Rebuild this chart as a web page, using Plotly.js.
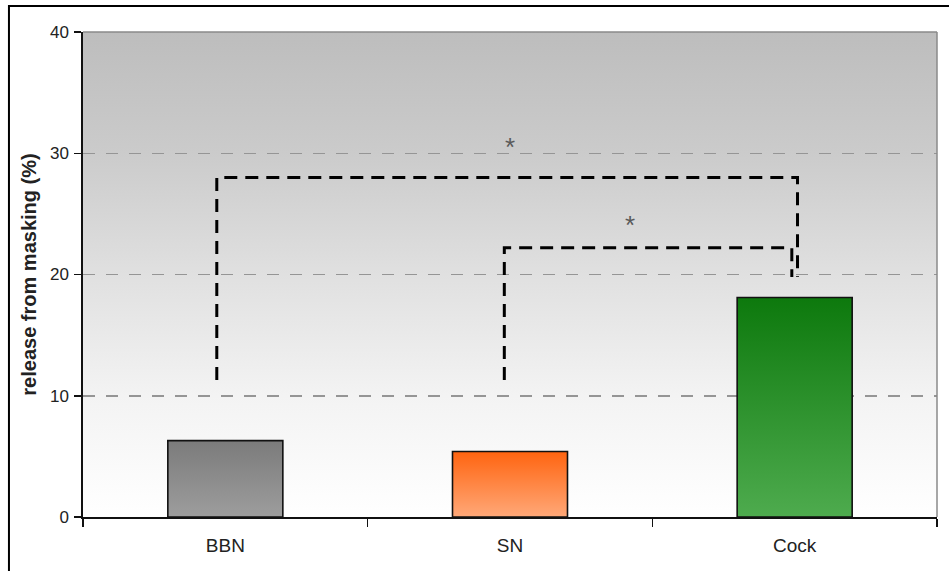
<!DOCTYPE html>
<html>
<head>
<meta charset="utf-8">
<script src="https://cdn.plot.ly/plotly-3.0.1.min.js"></script>
<style>html,body{margin:0;padding:0;background:#fff;}#chart{width:949px;height:571px;}</style>
</head>
<body>
<div id="chart"></div>
<script>
// ---- data ----
const categories = ['BBN', 'SN', 'Cock'];
const values = [6.3, 5.4, 18.1];
const barTopColors = ['#7b7b7b', '#ff6410', '#0d790d'];
const barBottomColors = ['#9d9d9d', '#ffa878', '#4eab4e'];
const yTickVals = [0, 10, 20, 30, 40];
const yTickText = ['0', '10', '20', '30', '40'];
const bracketOuterX = [-0.03, -0.03, 2.01, 2.01];
const bracketOuterY = [11.3, 28.0, 28.0, 19.8];
const bracketInnerX = [0.98, 0.98, 1.99, 1.99];
const bracketInnerY = [11.3, 22.2, 22.2, 19.8];
const starX = [1.0, 1.42];
const starY = [31.1, 24.7];
const starText = ['*', '*'];
const yTitle = 'release from masking (%)';

// ---- build ----
const FONT = 'Liberation Sans, Arial, sans-serif';
const halfW = 0.202;
const traces = [];
values.forEach((v, i) => {
  const x0 = i - halfW, x1 = i + halfW;
  traces.push({
    type: 'scatter', mode: 'lines',
    x: [x0, x1, x1, x0, x0], y: [0, 0, v, v, 0],
    fill: 'toself',
    fillgradient: {type: 'vertical', colorscale: [[0, barBottomColors[i]], [1, barTopColors[i]]]},
    line: {color: '#111', width: 1.6},
    hoverinfo: 'skip', showlegend: false
  });
});
[[bracketOuterX, bracketOuterY], [bracketInnerX, bracketInnerY]].forEach(([bx, by]) => {
  traces.push({
    type: 'scatter', mode: 'lines', x: bx, y: by,
    line: {color: '#000', width: 3, dash: '13px,8px'},
    hoverinfo: 'skip', showlegend: false
  });
});

const annotations = starX.map((x, i) => ({
  x: x, y: starY[i], xref: 'x', yref: 'y', text: starText[i], showarrow: false,
  font: {family: FONT, size: 26, color: '#5a5a5a'}, yshift: -7
}));

const bgSvg = '<svg xmlns="http://www.w3.org/2000/svg" width="100" height="100" preserveAspectRatio="none">' +
  '<defs><linearGradient id="g" x1="0" y1="0" x2="0" y2="1">' +
  '<stop offset="0" stop-color="#bdbdbd"/><stop offset="0.25" stop-color="#cbcbcb"/>' +
  '<stop offset="0.5" stop-color="#e0e0e0"/><stop offset="0.75" stop-color="#f3f3f3"/>' +
  '<stop offset="1" stop-color="#ffffff"/></linearGradient></defs>' +
  '<rect width="100" height="100" fill="url(#g)"/></svg>';

const layout = {
  width: 949, height: 571,
  margin: {l: 83, r: 12, t: 32, b: 54},
  paper_bgcolor: '#ffffff', plot_bgcolor: 'rgba(0,0,0,0)',
  showlegend: false, hovermode: false,
  font: {family: FONT, color: '#222'},
  xaxis: {
    type: 'linear', range: [-0.5, 2.5], fixedrange: true,
    tickmode: 'array', tickvals: [0, 1, 2], ticktext: categories, ticks: '',
    tickfont: {family: FONT, size: 19, color: '#222'},
    ticklabelstandoff: 11,
    showgrid: false, zeroline: false,
    showline: true, linecolor: '#111', linewidth: 1.6,
    minor: {tickmode: 'array', tickvals: [-0.5, 0.5, 1.5, 2.5], ticks: 'outside', ticklen: 8, tickwidth: 1.5, tickcolor: '#111', showgrid: false}
  },
  yaxis: {
    range: [0, 40], fixedrange: true,
    tickmode: 'array', tickvals: yTickVals, ticktext: yTickText,
    ticks: 'outside', ticklen: 7, tickwidth: 1.5, tickcolor: '#111',
    tickfont: {family: FONT, size: 17, color: '#222'},
    ticklabelstandoff: 2,
    showgrid: true, gridcolor: '#959595', gridwidth: 1.5, griddash: '12px,11px',
    zeroline: false, showline: true, linecolor: '#111', linewidth: 1.6,
    title: {text: yTitle, font: {family: FONT, size: 20, color: '#222', weight: 'bold'}, standoff: 8}
  },
  images: [{
    source: 'data:image/svg+xml;charset=utf-8,' + encodeURIComponent(bgSvg),
    xref: 'paper', yref: 'paper', x: 0, y: 1, sizex: 1, sizey: 1,
    sizing: 'stretch', xanchor: 'left', yanchor: 'top', layer: 'below'
  }],
  shapes: [
    {type: 'line', xref: 'paper', yref: 'paper', x0: 0, x1: 1, y0: 1, y1: 1, line: {color: '#8a8a8a', width: 1.5}, layer: 'above'},
    {type: 'line', xref: 'paper', yref: 'paper', x0: 1, x1: 1, y0: 0, y1: 1, line: {color: '#8a8a8a', width: 1.5}, layer: 'above'},
    {type: 'rect', xref: 'paper', yref: 'paper', x0: -0.0867, x1: 1.03, y0: -0.2, y1: 1.0536, line: {color: '#000', width: 2}, fillcolor: 'rgba(0,0,0,0)', layer: 'above'}
  ],
  annotations: annotations
};

Plotly.newPlot('chart', traces, layout, {staticPlot: true, displayModeBar: false});
</script>
</body>
</html>
